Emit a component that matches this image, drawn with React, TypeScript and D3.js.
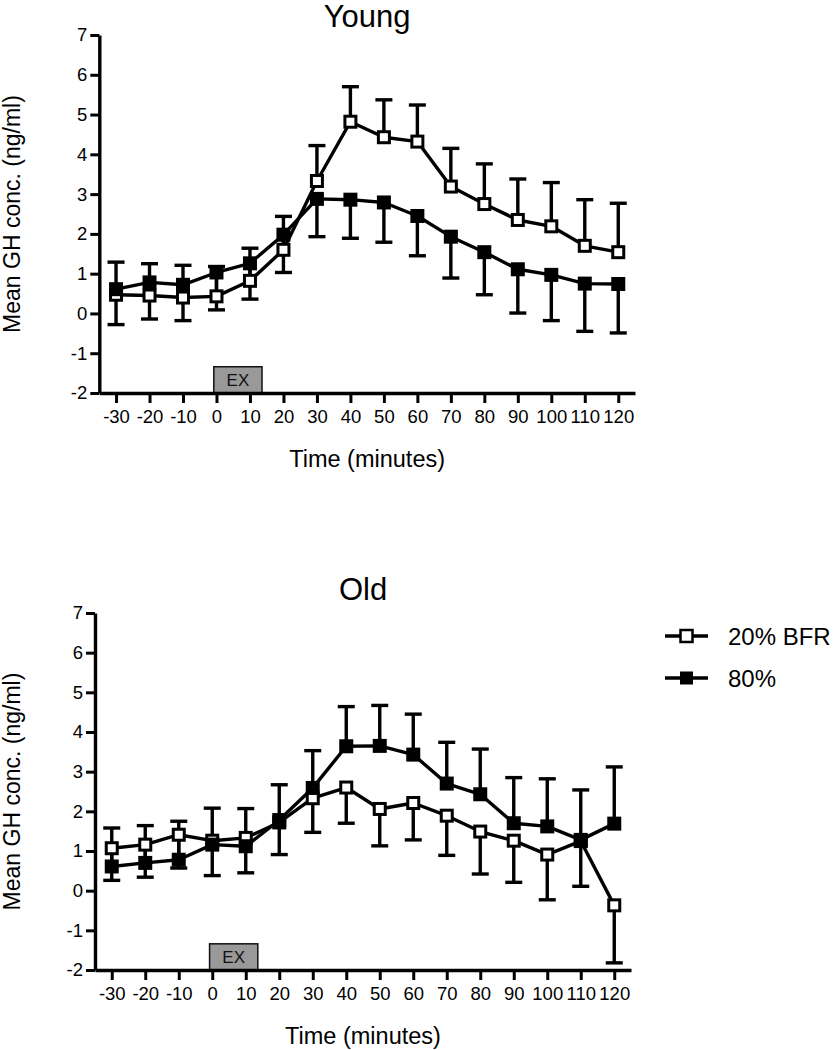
import React, { useRef, useEffect } from 'react';
import * as d3 from 'd3';

// time points (minutes)
const times = [-30, -20, -10, 0, 10, 20, 30, 40, 50, 60, 70, 80, 90, 100, 110, 120];
const yTickValues = [-2, -1, 0, 1, 2, 3, 4, 5, 6, 7];
const seriesNames = ['20% BFR', '80%'];

// Young
const youngBfr = [0.47, 0.45, 0.40, 0.43, 0.82, 1.60, 3.33, 4.82, 4.43, 4.32, 3.19, 2.75, 2.35, 2.19, 1.70, 1.54];
const youngBfrErr = [0.82, 0.80, 0.81, 0.75, 0.82, 0.84, 0.89, 0.88, 0.94, 0.92, 0.96, 1.01, 1.03, 1.10, 1.16, 1.23];
const youngHigh = [0.61, 0.78, 0.72, 1.03, 1.26, 1.98, 2.88, 2.86, 2.79, 2.45, 1.93, 1.54, 1.11, 0.97, 0.75, 0.74];
const youngHighErr = [0.89, 0.92, 0.90, 0.94, 0.90, 0.95, 0.95, 0.97, 1.00, 1.00, 1.04, 1.07, 1.10, 1.15, 1.20, 1.23];

// Old
const oldBfr = [1.07, 1.16, 1.41, 1.26, 1.33, 1.72, 2.33, 2.60, 2.06, 2.21, 1.89, 1.49, 1.26, 0.91, 1.25, -0.37];
const oldBfrErr = [0.81, 0.82, 0.84, 0.88, 0.88, 0.81, 0.86, 0.90, 0.93, 0.93, 1.00, 1.07, 1.05, 1.14, 1.14, 1.45];
const oldHigh = [0.61, 0.70, 0.78, 1.16, 1.12, 1.78, 2.59, 3.64, 3.65, 3.43, 2.70, 2.43, 1.70, 1.62, 1.28, 1.69];
const oldHighErr = [0.97, 0.94, 0.97, 0.92, 0.95, 0.89, 0.94, 1.00, 1.02, 1.02, 1.04, 1.14, 1.15, 1.20, 1.26, 1.43];

// exercise bar span (minutes / ng/ml)
const exSpan = [-0.8, 13.6];
const exHeight = [-2, -1.34];

const FONT = 'Liberation Sans, Arial, Helvetica, sans-serif';
const SW = 3.4;

function drawPanel(svg, opts) {
    const { title, titleY, left, right, top, bottom, bfr, bfrErr, bfrDir, high, highErr, highDir } = opts;

    const x = d3.scaleLinear().domain([-35, 125]).range([left, right]);
    const y = d3.scaleLinear().domain([-2, 7]).range([bottom, top]);
    const g = svg.append('g');

    // title
    g.append('text')
        .attr('x', (left + right) / 2)
        .attr('y', titleY)
        .attr('text-anchor', 'middle')
        .attr('font-size', 31)
        .attr('font-family', FONT)
        .text(title);

    // EX box
    g.append('rect')
        .attr('x', x(exSpan[0]))
        .attr('y', y(exHeight[1]))
        .attr('width', x(exSpan[1]) - x(exSpan[0]))
        .attr('height', y(exHeight[0]) - y(exHeight[1]))
        .attr('fill', '#999999')
        .attr('stroke', '#111')
        .attr('stroke-width', 1.5);
    g.append('text')
        .attr('x', (x(exSpan[0]) + x(exSpan[1])) / 2)
        .attr('y', (y(exHeight[0]) + y(exHeight[1])) / 2)
        .attr('dy', '0.36em')
        .attr('text-anchor', 'middle')
        .attr('font-size', 17)
        .attr('font-family', FONT)
        .attr('fill', '#111')
        .text('EX');

    // y axis
    g.append('g')
        .attr('transform', `translate(${left},0)`)
        .call(d3.axisLeft(y).tickValues(yTickValues).tickFormat(d => String(d))
            .tickSize(9).tickSizeOuter(0).tickPadding(3))
        .call(a => a.select('.domain').attr('stroke', '#000').attr('stroke-width', SW))
        .call(a => a.selectAll('.tick line').attr('stroke', '#000').attr('stroke-width', 3))
        .call(a => a.selectAll('.tick text')
            .attr('font-size', 18.5)
            .attr('font-family', FONT)
            .attr('fill', '#000'));

    // x axis
    g.append('g')
        .attr('transform', `translate(0,${bottom})`)
        .call(d3.axisBottom(x).tickValues(times).tickFormat(d => String(d))
            .tickSize(10).tickSizeOuter(0).tickPadding(7))
        .call(a => a.select('.domain').attr('stroke', '#000').attr('stroke-width', SW))
        .call(a => a.selectAll('.tick line').attr('stroke', '#000').attr('stroke-width', 3))
        .call(a => a.selectAll('.tick text')
            .attr('font-size', 18.5)
            .attr('font-family', FONT)
            .attr('fill', '#000'));

    // axis labels
    g.append('text')
        .attr('transform', `translate(20,${(top + bottom) / 2}) rotate(-90)`)
        .attr('text-anchor', 'middle')
        .attr('font-size', 23)
        .attr('font-family', FONT)
        .text('Mean GH conc. (ng/ml)');

    g.append('text')
        .attr('x', (left + right) / 2)
        .attr('y', bottom + 74)
        .attr('text-anchor', 'middle')
        .attr('font-size', 23.5)
        .attr('font-family', FONT)
        .text('Time (minutes)');

    const line = d3.line().x(d => x(d.t)).y(d => y(d.v));

    const series = [
        { vals: bfr, err: bfrErr, dir: bfrDir, fill: '#fff', size: 11 },
        { vals: high, err: highErr, dir: highDir, fill: '#000', size: 11 },
    ];

    // error bars first
    series.forEach(s => {
        const pts = times.map((t, i) => ({ t, v: s.vals[i], e: s.err[i] }));
        const eg = g.append('g');
        pts.forEach(p => {
            const end = p.v + s.dir * p.e;
            eg.append('line')
                .attr('x1', x(p.t)).attr('x2', x(p.t))
                .attr('y1', y(p.v)).attr('y2', y(end))
                .attr('stroke', '#000').attr('stroke-width', SW);
            eg.append('line')
                .attr('x1', x(p.t) - 8.5).attr('x2', x(p.t) + 8.5)
                .attr('y1', y(end)).attr('y2', y(end))
                .attr('stroke', '#000').attr('stroke-width', SW);
        });
    });

    series.forEach(s => {
        const pts = times.map((t, i) => ({ t, v: s.vals[i] }));
        g.append('path')
            .datum(pts)
            .attr('fill', 'none')
            .attr('stroke', '#000')
            .attr('stroke-width', SW)
            .attr('stroke-linejoin', 'round')
            .attr('d', line);
        g.append('g')
            .selectAll('rect')
            .data(pts)
            .join('rect')
            .attr('x', d => x(d.t) - s.size / 2)
            .attr('y', d => y(d.v) - s.size / 2)
            .attr('width', s.size)
            .attr('height', s.size)
            .attr('fill', s.fill)
            .attr('stroke', '#000')
            .attr('stroke-width', 3);
    });
}

export default function App() {
    const svgRef = useRef(null);

    useEffect(() => {
        const svg = d3.select(svgRef.current);
        svg.selectAll('*').remove();

        drawPanel(svg, {
            title: 'Young', titleY: 27,
            left: 99.3, right: 635, top: 35, bottom: 393,
            bfr: youngBfr, bfrErr: youngBfrErr, bfrDir: 1,
            high: youngHigh, highErr: youngHighErr, highDir: -1,
        });

        drawPanel(svg, {
            title: 'Old', titleY: 600,
            left: 95, right: 631, top: 613, bottom: 970,
            bfr: oldBfr, bfrErr: oldBfrErr, bfrDir: -1,
            high: oldHigh, highErr: oldHighErr, highDir: 1,
        });

        // legend
        const legend = svg.append('g');
        seriesNames.forEach((name, i) => {
            const ly = 636 + i * 42;
            legend.append('line')
                .attr('x1', 665).attr('x2', 708)
                .attr('y1', ly).attr('y2', ly)
                .attr('stroke', '#000').attr('stroke-width', SW);
            legend.append('rect')
                .attr('x', 686.5 - 6).attr('y', ly - 6)
                .attr('width', 12).attr('height', 12)
                .attr('fill', i === 0 ? '#fff' : '#000')
                .attr('stroke', '#000').attr('stroke-width', i === 0 ? 2.5 : 1);
            legend.append('text')
                .attr('x', 728).attr('y', ly)
                .attr('dy', '0.36em')
                .attr('font-size', 24)
                .attr('font-family', FONT)
                .text(name);
        });
    }, []);

    return (
        <div style={{ position: 'absolute', left: 0, top: 0 }}>
            <svg ref={svgRef} width={834} height={1050} style={{ display: 'block', background: '#fff' }} />
        </div>
    );
}
